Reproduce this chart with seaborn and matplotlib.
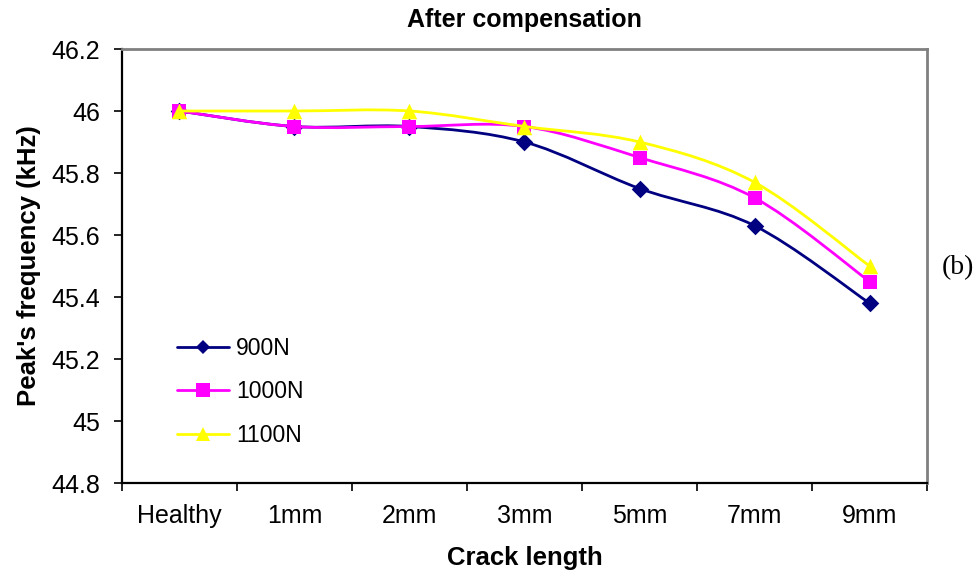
import numpy as np
import pandas as pd
import matplotlib
matplotlib.use("Agg")
import matplotlib.pyplot as plt
from matplotlib.path import Path
from matplotlib.patches import PathPatch
from matplotlib.lines import Line2D
from matplotlib.ticker import FixedLocator, FuncFormatter
import seaborn as sns

# Peak frequency (kHz) versus crack length, after compensation
categories = ["Healthy", "1mm", "2mm", "3mm", "5mm", "7mm", "9mm"]
load_labels = ["900N", "1000N", "1100N"]
freq_900N = [46.00, 45.95, 45.95, 45.90, 45.75, 45.63, 45.38]
freq_1000N = [46.00, 45.95, 45.95, 45.95, 45.85, 45.72, 45.45]
freq_1100N = [46.00, 46.00, 46.00, 45.95, 45.90, 45.77, 45.50]
y_ticks = [44.8, 45.0, 45.2, 45.4, 45.6, 45.8, 46.0, 46.2]

series = [freq_900N, freq_1000N, freq_1100N]
colors = ["#000080", "#FF00FF", "#FFFF00"]
markers = ["D", "s", "^"]
marker_area = [80, 115, 125]

df = pd.DataFrame({
    "pos": np.tile(np.arange(len(categories)), len(series)),
    "freq": np.concatenate(series),
    "load": np.repeat(load_labels, len(categories)),
})

sns.set_theme(style="white")
plt.rcParams["font.family"] = ["Liberation Sans", "DejaVu Sans"]
plt.rcParams["text.color"] = "black"

fig = plt.figure(figsize=(9.79, 5.82), dpi=100)
ax = fig.add_axes([0.1246, 0.1701, 0.8223, 0.7457])


def smooth_path(xs, ys):
    """Cardinal-spline (Catmull-Rom) Bezier path through the points."""
    pts = np.column_stack([xs, ys]).astype(float)
    n = len(pts)
    verts = [pts[0]]
    codes = [Path.MOVETO]
    for i in range(n - 1):
        p0 = pts[i - 1] if i > 0 else pts[i]
        p1 = pts[i]
        p2 = pts[i + 1]
        p3 = pts[i + 2] if i + 2 < n else pts[i + 1]
        c1 = p1 + (p2 - p0) / 6.0
        c2 = p2 - (p3 - p1) / 6.0
        verts += [c1, c2, p2]
        codes += [Path.CURVE4] * 3
    return Path(verts, codes)


for k, (lab, col, mk, area) in enumerate(zip(load_labels, colors, markers, marker_area)):
    sub = df[df["load"] == lab]
    patch = PathPatch(smooth_path(sub["pos"].values, sub["freq"].values),
                      facecolor="none", edgecolor=col, lw=2.0,
                      zorder=2 + 2 * k, capstyle="round", joinstyle="round")
    ax.add_patch(patch)
    sns.scatterplot(data=sub, x="pos", y="freq", ax=ax, color=col, marker=mk,
                    s=area, linewidth=0, zorder=3 + 2 * k, legend=False)

ax.set_xlim(-0.5, len(categories) - 0.5)
ax.set_ylim(44.8, 46.2)

# y axis
ax.yaxis.set_major_locator(FixedLocator(y_ticks))
ax.yaxis.set_major_formatter(FuncFormatter(lambda v, _: f"{v:g}"))
ax.tick_params(axis="y", which="major", left=True, direction="out",
               length=6, width=1.2, color="black", pad=10, labelsize=18,
               labelcolor="black")

# x axis: labels at category centres, ticks at category boundaries
ax.set_xticks(np.arange(len(categories)))
ax.set_xticklabels(categories)
ax.set_xticks(np.arange(len(categories) + 1) - 0.5, minor=True)
ax.tick_params(axis="x", which="major", bottom=True, length=0, pad=15,
               labelsize=18, labelcolor="black")
ax.tick_params(axis="x", which="minor", bottom=True, direction="out",
               length=6, width=1.2, color="black")

for side in ["left", "bottom"]:
    ax.spines[side].set_color("black")
    ax.spines[side].set_linewidth(1.6)
for side in ["top", "right"]:
    ax.spines[side].set_color("#808080")
    ax.spines[side].set_linewidth(2.0)
    ax.spines[side].set_visible(True)

ax.set_xlabel("Crack length", fontsize=18.5, fontweight="bold", color="black")
ax.set_ylabel("Peak's frequency (kHz)", fontsize=18.5, fontweight="bold", color="black")
ax.xaxis.set_label_coords(0.5, -0.145)
ax.yaxis.set_label_coords(-0.10, 0.5)
ax.set_title("After compensation", fontsize=18, fontweight="bold", color="black", pad=16)

handles = [Line2D([0], [0], color=c, lw=2.0, marker=m,
                  markersize=(7 if m == "D" else 10), markeredgewidth=0)
           for c, m in zip(colors, markers)]
leg = ax.legend(handles, load_labels, loc="lower left",
                bbox_to_anchor=(0.068, 0.083), frameon=False, fontsize=16.5,
                handlelength=2.3, handletextpad=0.3, labelspacing=0.9,
                borderpad=0, borderaxespad=0, labelcolor="black")

fig.text(958 / 979, 1 - 268 / 582, "(b)", ha="center", va="center",
         family=["Liberation Serif", "DejaVu Serif"], fontsize=20, color="black")

fig.savefig("out.png", dpi=100, facecolor="white")
